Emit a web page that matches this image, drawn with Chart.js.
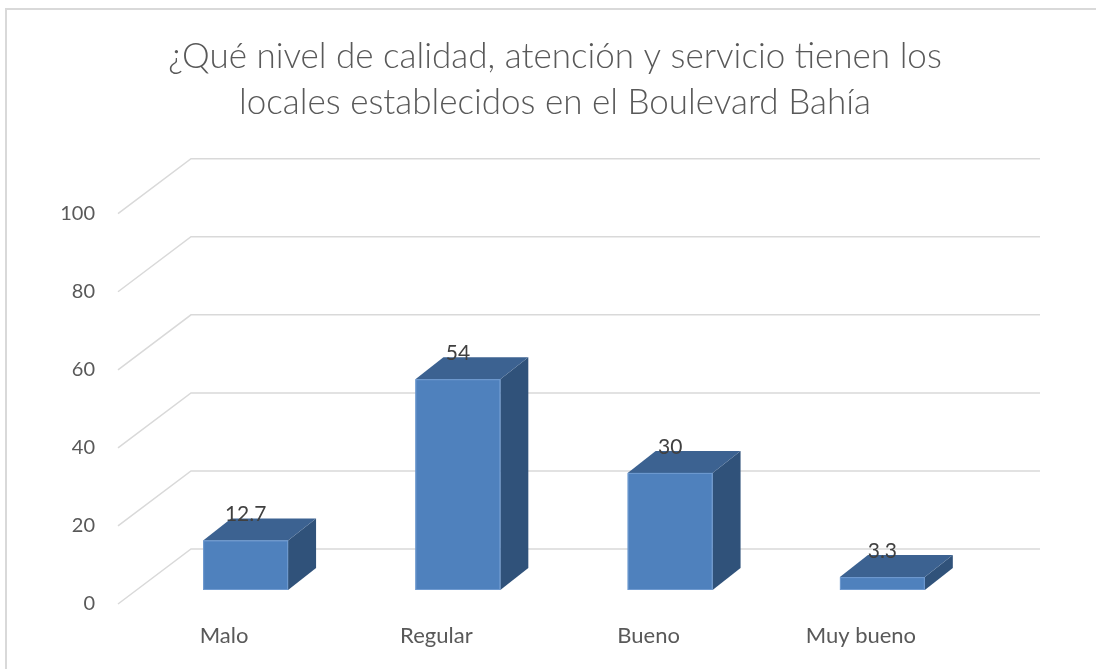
<!DOCTYPE html>
<html>
<head>
<meta charset="utf-8">
<script src="https://cdn.jsdelivr.net/npm/chart.js@4/dist/chart.umd.min.js"></script>
<style>
  html, body { margin: 0; padding: 0; background: #ffffff; }
  #wrap { width: 1096px; height: 669px; position: relative; }
</style>
</head>
<body>
<div id="wrap"><canvas id="c" width="1096" height="669"></canvas></div>
<script>
// ---- data ----
const categories = ['Malo', 'Regular', 'Bueno', 'Muy bueno'];
const values = [12.7, 54, 30, 3.3];
const valueLabels = ['12.7', '54', '30', '3.3'];
const titleLines = ['¿Qué nivel de calidad, atención y servicio tienen los', 'locales establecidos en el Boulevard Bahía'];
const yTicks = [0, 20, 40, 60, 80, 100];

// ---- styles ----
const FONT = 'Lato, "Open Sans", "Noto Sans", sans-serif';
const WALL_DX = 73, WALL_DY = -55;      // depth of the 3D back wall
const BAR_OX = 21.5, BAR_OY = -14;      // bar front face offset inside the depth
const BAR_DX = 28, BAR_DY = -22;        // bar depth
const COL_FRONT = '#4f81bd', COL_TOP = '#3c6291', COL_SIDE = '#30527a', COL_EDGE = '#6f9ad0';
const GRID = '#d9d9d9';

const threeD = {
  id: 'threeD',
  beforeDraw(chart) {
    const ctx = chart.ctx;
    ctx.save();
    ctx.strokeStyle = GRID;
    ctx.lineWidth = 2;
    ctx.beginPath();
    ctx.moveTo(6, 669); ctx.lineTo(6, 9); ctx.lineTo(1096, 9);
    ctx.stroke();
    ctx.restore();
  },
  beforeDatasetsDraw(chart) {
    const ctx = chart.ctx, a = chart.chartArea, ys = chart.scales.y;
    ctx.save();
    ctx.strokeStyle = GRID;
    ctx.lineWidth = 1.5;
    yTicks.forEach(v => {
      const y = ys.getPixelForValue(v);
      ctx.beginPath();
      ctx.moveTo(a.left, y);
      ctx.lineTo(a.left + WALL_DX, y + WALL_DY);
      ctx.lineTo(a.right + WALL_DX, y + WALL_DY);
      ctx.stroke();
    });
    ctx.restore();
  },
  afterDatasetsDraw(chart) {
    const ctx = chart.ctx;
    const meta = chart.getDatasetMeta(0);
    ctx.save();
    meta.data.forEach((el, i) => {
      const p = el.getProps(['x', 'y', 'base', 'width'], true);
      const l = p.x - p.width / 2 + BAR_OX, r = p.x + p.width / 2 + BAR_OX;
      const t = p.y + BAR_OY, b = p.base + BAR_OY;
      // side face
      ctx.fillStyle = COL_SIDE;
      ctx.beginPath();
      ctx.moveTo(r, t); ctx.lineTo(r + BAR_DX, t + BAR_DY);
      ctx.lineTo(r + BAR_DX, b + BAR_DY); ctx.lineTo(r, b);
      ctx.closePath(); ctx.fill();
      // top face
      ctx.fillStyle = COL_TOP;
      ctx.beginPath();
      ctx.moveTo(l, t); ctx.lineTo(l + BAR_DX, t + BAR_DY);
      ctx.lineTo(r + BAR_DX, t + BAR_DY); ctx.lineTo(r, t);
      ctx.closePath(); ctx.fill();
      // front face
      ctx.fillStyle = COL_FRONT;
      ctx.fillRect(l, t, r - l, b - t);
      ctx.strokeStyle = COL_EDGE;
      ctx.lineWidth = 1;
      ctx.strokeRect(l + 0.5, t + 0.5, r - l - 1, b - t - 1);
      // value label
      ctx.fillStyle = '#404040';
      ctx.font = '21px ' + FONT;
      ctx.textAlign = 'center';
      ctx.textBaseline = 'middle';
      ctx.fillText(valueLabels[i], (l + r) / 2, t - 26);
    });
    ctx.restore();
  }
};

new Chart(document.getElementById('c'), {
  type: 'bar',
  data: {
    labels: categories,
    datasets: [{
      data: values,
      backgroundColor: 'rgba(0,0,0,0)',
      borderWidth: 0,
      barPercentage: 0.4,
      categoryPercentage: 1.0
    }]
  },
  options: {
    responsive: false,
    animation: false,
    devicePixelRatio: 1,
    layout: { padding: { left: 14, right: 0, top: 0, bottom: 0 } },
    plugins: {
      legend: { display: false },
      tooltip: { enabled: false },
      title: {
        display: true,
        text: titleLines,
        color: '#595959',
        font: { family: FONT, size: 35, weight: '300', lineHeight: 1.31 },
        padding: { top: 34, bottom: 88 }
      }
    },
    scales: {
      x: {
        grid: { display: false, drawTicks: false },
        border: { display: false },
        ticks: { color: '#595959', font: { family: FONT, size: 22 }, padding: 19, maxRotation: 0 },
        afterFit(s) { s.height = 65; }
      },
      y: {
        min: 0, max: 100,
        grid: { display: false, drawTicks: false },
        border: { display: false },
        ticks: { stepSize: 20, color: '#595959', font: { family: FONT, size: 20 }, padding: 23 },
        afterFit(s) { s.width = 104; }
      },
      yRight: {
        position: 'right',
        min: 0, max: 100,
        grid: { display: false, drawTicks: false },
        border: { display: false },
        ticks: { display: false },
        afterFit(s) { s.width = 129; }
      }
    }
  },
  plugins: [threeD]
});
</script>
</body>
</html>
